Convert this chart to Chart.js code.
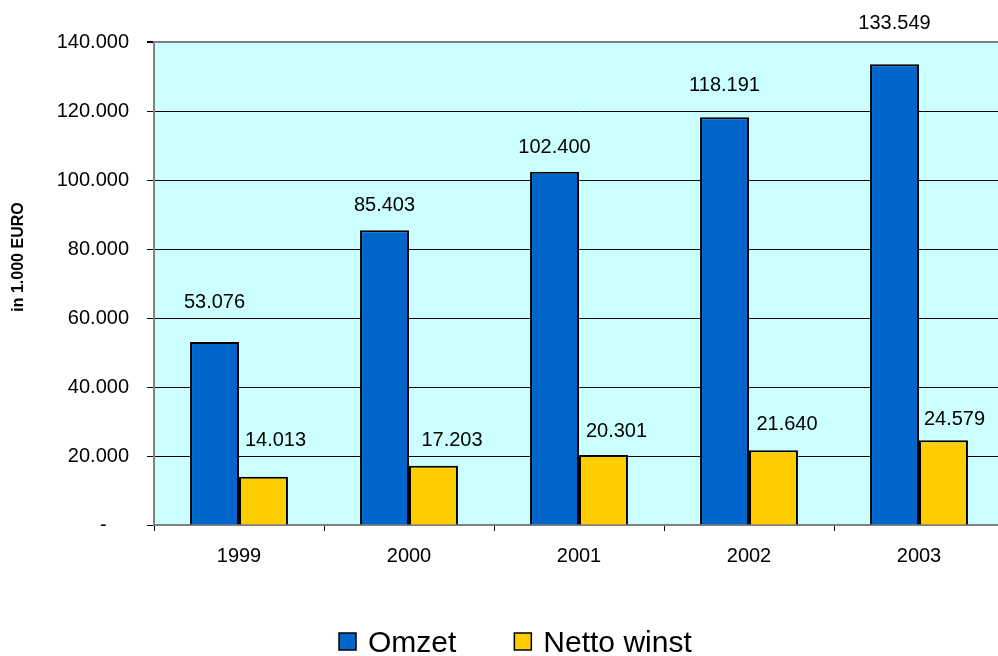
<!DOCTYPE html>
<html>
<head>
<meta charset="utf-8">
<script src="https://cdn.jsdelivr.net/npm/chart.js@4"></script>
<style>
  body { margin: 0; overflow: hidden; background: #fff; }
  #wrap { width: 1004px; height: 656px; }
</style>
</head>
<body>
<div id="wrap"><canvas id="myChart" width="1004" height="656"></canvas></div>
<script>
const jaren = ["1999", "2000", "2001", "2002", "2003"];
const omzet = [53076, 85403, 102400, 118191, 133549];
const nettoWinst = [14013, 17203, 20301, 21640, 24579];
const yTicks = [0, 20000, 40000, 60000, 80000, 100000, 120000, 140000];

// hoe ver de waardelabels boven de balk staan (zoals in het origineel)
const labelNudge = [
  { dx: [0, 0, 0, 0, 0], dy: [39.5, 24.5, 24, 32, 40.5] },
  { dx: [12, 18.5, 13, 13.5, 11], dy: [36.5, 25.5, 23.5, 25.5, 20.5] },
];

const FONT = "'Liberation Sans', Arial, sans-serif";

function punt(v) {
  return String(v).replace(/\B(?=(\d{3})+(?!\d))/g, ".");
}

const achtergrond = {
  id: "achtergrond",
  beforeDraw(chart) {
    const { ctx, chartArea: a } = chart;
    ctx.save();
    ctx.fillStyle = "#CCFFFF";
    ctx.fillRect(a.left, a.top, a.right - a.left, a.bottom - a.top);
    ctx.restore();
  },
};

const waardeLabels = {
  id: "waardeLabels",
  afterDatasetsDraw(chart) {
    const ctx = chart.ctx;
    ctx.save();
    ctx.font = "20px " + FONT;
    ctx.fillStyle = "#000";
    ctx.textAlign = "center";
    ctx.textBaseline = "middle";
    chart.data.datasets.forEach((ds, i) => {
      chart.getDatasetMeta(i).data.forEach((el, j) => {
        ctx.fillText(punt(ds.data[j]), el.x + labelNudge[i].dx[j], el.y - labelNudge[i].dy[j]);
      });
    });
    ctx.restore();
  },
};

const extra = {
  id: "extra",
  afterDraw(chart) {
    const ctx = chart.ctx;
    ctx.save();
    // as-titel
    ctx.translate(19, 257);
    ctx.rotate(-Math.PI / 2);
    ctx.font = "bold 16px " + FONT;
    ctx.fillStyle = "#000";
    ctx.textAlign = "center";
    ctx.textBaseline = "middle";
    ctx.fillText("in 1.000 EURO", 0, 0);
    ctx.restore();

    // legenda
    ctx.save();
    ctx.font = "30px " + FONT;
    ctx.textBaseline = "alphabetic";
    ctx.textAlign = "left";
    let x = 339;
    chart.data.datasets.forEach((ds) => {
      ctx.fillStyle = ds.backgroundColor;
      ctx.fillRect(x, 633, 17, 17);
      ctx.strokeStyle = "#000";
      ctx.lineWidth = 1.5;
      ctx.strokeRect(x, 633, 17, 17);
      ctx.fillStyle = "#000";
      ctx.fillText(ds.label, x + 29, 652);
      x = x + 29 + ctx.measureText(ds.label).width + 58;
    });
    ctx.restore();
  },
};

var ctx = document.getElementById("myChart").getContext("2d");
var chart = new Chart(ctx, {
  type: "bar",
  data: {
    labels: jaren,
    datasets: [
      {
        label: "Omzet",
        data: omzet,
        backgroundColor: "#0066CC",
        borderColor: "#000",
        borderWidth: 2,
      },
      {
        label: "Netto winst",
        data: nettoWinst,
        backgroundColor: "#FFCC00",
        borderColor: "#000",
        borderWidth: 2,
      },
    ],
  },
  options: {
    responsive: false,
    animation: false,
    devicePixelRatio: 1,
    categoryPercentage: 0.576,
    barPercentage: 1,
    layout: { padding: { top: 42, left: 0, right: 0, bottom: 0 } },
    plugins: {
      legend: { display: false },
      tooltip: { enabled: false },
    },
    scales: {
      x: {
        afterFit: (s) => { s.height = 131; },
        grid: {
          drawOnChartArea: false,
          color: "#000",
          tickLength: 6,
          offset: true,
        },
        border: { color: "#808080", width: 2 },
        ticks: { color: "#000", font: { family: FONT, size: 20 }, padding: 13 },
      },
      y: {
        min: 0,
        max: 140000,
        afterFit: (s) => { s.width = 154; },
        afterBuildTicks: (s) => { s.ticks = yTicks.map((v) => ({ value: v })); },
        grid: {
          color: (c) => (c.tick && c.tick.value === 140000 ? "#808080" : "#000"),
          lineWidth: (c) => (c.tick && c.tick.value === 140000 ? 2 : 1),
          tickColor: "#000",
          tickLength: 7,
        },
        border: { color: "#808080", width: 2 },
        ticks: {
          color: "#000",
          font: { family: FONT, size: 20 },
          padding: 18,
          callback: (v) => (v === 0 ? "-    " : punt(v)),
        },
      },
    },
  },
  plugins: [achtergrond, waardeLabels, extra],
});
</script>
</body>
</html>
